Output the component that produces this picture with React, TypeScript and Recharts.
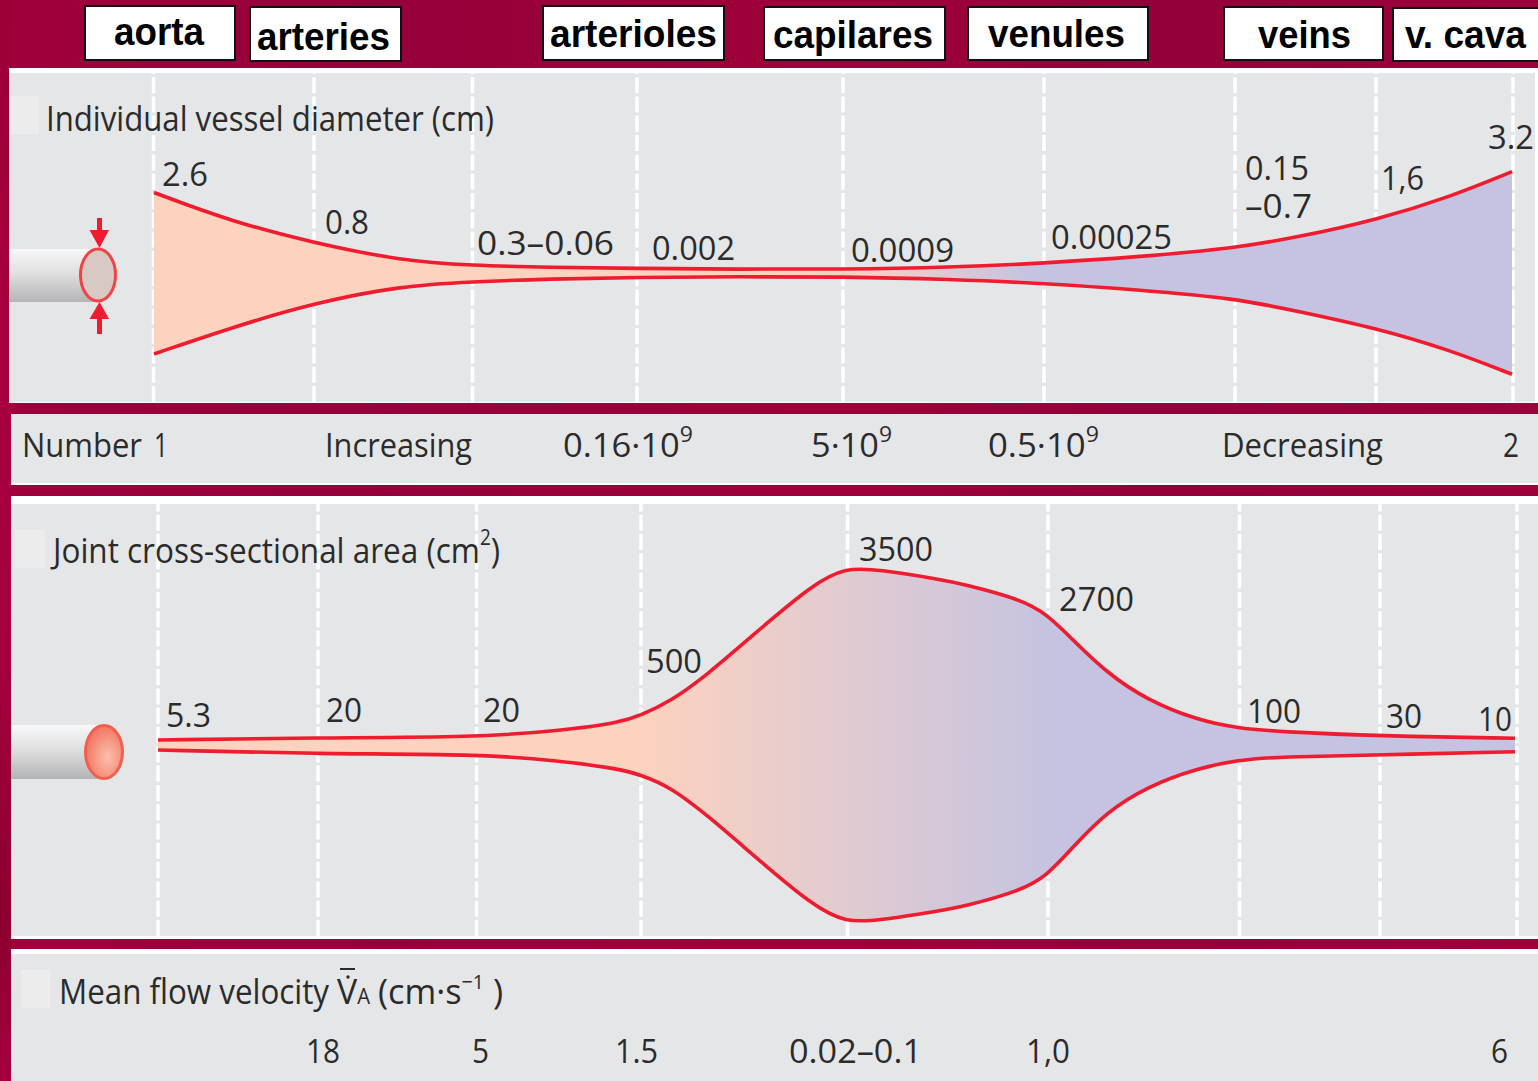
import type { ReactNode } from "react"
import { Area, ComposedChart, ReferenceLine, XAxis, YAxis } from "recharts"

// vessel segment positions along the tree, and the wall offsets either side of the centre line
const diameterPosition = [154, 230, 314, 400, 472, 550, 637, 740, 843, 950, 1044, 1140, 1235, 1300, 1376, 1450, 1512]
const diameterUpper = [80.5, 52, 30, 12.5, 7.5, 5.7, 4.5, 3.8, 3.7, 5.7, 9.7, 16.3, 24.7, 36.3, 53, 76, 101.3]
const diameterLower = [-81, -55, -30, -13, -8.7, -6, -4.3, -3.7, -3.7, -6.3, -10.3, -17, -25.3, -38.7, -55, -77, -101.3]

const areaPosition = [158, 318, 476, 560, 620, 641, 670, 707, 753, 813, 846, 878, 940, 963, 1020, 1047, 1073, 1107, 1147, 1197, 1238, 1280, 1378, 1515]
const areaUpper = [5, 7.3, 7.7, 14.3, 22.3, 30, 43.3, 70, 110, 161, 177.5, 175.5, 165.7, 161, 146, 131, 105, 72, 45, 25, 16.7, 13.3, 9, 6.7]
const areaLower = [-5, -9, -9, -15.7, -24, -30, -41.7, -70, -110, -161, -177.5, -175.5, -165.7, -161.7, -146, -131, -101.7, -66.7, -41.7, -23.3, -15, -11.7, -10, -6.7]

const topDividers = [153.5, 314, 472.5, 637, 843, 1044, 1235, 1376, 1513]
const lowerDividers = [158, 318, 476.5, 641, 847.5, 1048, 1239.5, 1380, 1517]

const vesselNames = ["aorta", "arteries", "arterioles", "capilares", "venules", "veins", "v. cava"]
const diameterLabels = ["2.6", "0.8", "0.3–0.06", "0.002", "0.0009", "0.00025", "0.15", "–0.7", "1,6", "3.2"]
const numberLabels = ["Number", "1", "Increasing", "Decreasing", "2"]
const countLabels = ["0.16·10", "5·10", "0.5·10"]
const countPowers = ["9", "9", "9"]
const areaLabels = ["5.3", "20", "20", "500", "3500", "2700", "100", "30", "10"]
const velocityLabels = ["18", "5", "1.5", "0.02–0.1", "1,0", "6"]

const diameterRows = diameterPosition.map((position, i) => ({ position, wall: [diameterLower[i], diameterUpper[i]] }))
const areaRows = areaPosition.map((position, i) => ({ position, wall: [areaLower[i], areaUpper[i]] }))

// [x, baseline, width]
const vesselBoxes = [[85, 6, 150, 54], [250, 7, 151, 54], [543, 6, 181, 54], [764, 7, 181, 53], [968, 7, 180, 53], [1224, 7, 159, 53], [1393, 8, 150, 53]]
const vesselSpots = [[114, 45, 90], [257, 50, 133], [550, 47, 167], [773, 48, 160], [988, 47, 137], [1258, 48, 93], [1405, 48, 121]]
const diameterSpots = [[162, 186, 46], [325, 234, 44], [477, 255, 137], [652, 260, 83], [851, 262, 103], [1051, 249, 121], [1245, 180, 64], [1245, 218, 67], [1381, 190, 43], [1488, 149, 46]]
const numberSpots = [[22, 457, 120], [154, 457, 14], [325, 457, 147], [1222, 457, 161], [1503, 457, 16]]
const countSpots = [[563, 457, 130], [811, 457, 81], [988, 457, 111]]
const areaSpots = [[166, 727, 45], [326, 722, 36], [483, 722, 37], [646, 673, 56], [859, 561, 74], [1059, 611, 75], [1247, 723, 54], [1386, 728, 36], [1478, 731, 34]]
const velocitySpots = [[306, 1063, 34], [472, 1063, 17], [615, 1063, 43], [789, 1063, 133], [1026, 1063, 44], [1491, 1063, 17]]

const RED = "#ee1c2e"
const GREY = "#e5e6e8"
const INK = "#2b2b2b"
const BODY_FONT = "'Open Sans', sans-serif"
const PAGE_W = 1538

function Txt({ x, y, w, size = 33, children }: { x: number; y: number; w: number; size?: number; children: ReactNode }) {
  return (
    <text x={x} y={y} fontSize={size} fontFamily={BODY_FONT} fill={INK} textLength={w} lengthAdjust="spacingAndGlyphs">
      {children}
    </text>
  )
}

function Dividers({ xs }: { xs: number[] }) {
  return (
    <>
      {xs.map((x) => (
        <ReferenceLine key={x} x={x} stroke="#ffffff" strokeWidth={3.5} strokeDasharray="16 3.3" zIndex={50} />
      ))}
    </>
  )
}

function Band({ top, height, xs }: { top: number; height: number; xs: number[] }) {
  return (
    <div style={{ position: "absolute", left: 0, top }}>
      <ComposedChart width={PAGE_W} height={height} data={[{ position: 0, wall: [0, 1] }]} margin={{ top: 0, right: 0, bottom: 0, left: 0 }}>
        <XAxis type="number" dataKey="position" domain={[0, PAGE_W]} hide />
        <YAxis domain={[0, 1]} hide />
        <Dividers xs={xs} />
      </ComposedChart>
    </div>
  )
}

function Profile({ top, height, domain, rows, xs, id, stops }: {
  top: number
  height: number
  domain: number[]
  rows: { position: number; wall: number[] }[]
  xs: number[]
  id: string
  stops: number[]
}) {
  return (
    <div style={{ position: "absolute", left: 0, top }}>
      <ComposedChart width={PAGE_W} height={height} data={rows} margin={{ top: 0, right: 0, bottom: 0, left: 0 }}>
        <defs>
          <linearGradient id={id} x1="0" y1="0" x2="1" y2="0">
            <stop offset={stops[0]} stopColor="#fdd2bf" />
            <stop offset={stops[1]} stopColor="#c5c3e1" />
          </linearGradient>
        </defs>
        <XAxis type="number" dataKey="position" domain={[0, PAGE_W]} hide />
        <YAxis domain={domain} hide />
        <Dividers xs={xs} />
        <Area
          type="basis"
          dataKey="wall"
          fill={`url(#${id})`}
          fillOpacity={1}
          stroke={RED}
          strokeWidth={3.6}
          dot={false}
          activeDot={false}
          isAnimationActive={false}
        />
      </ComposedChart>
    </div>
  )
}

function Panel({ left = 11, top, bottom, greyTop, greyBottom, greyRight = PAGE_W }: {
  left?: number
  top: number
  bottom: number
  greyTop: number
  greyBottom: number
  greyRight?: number
}) {
  return (
    <>
      <div style={{ position: "absolute", left, top, width: PAGE_W - left, height: bottom - top, background: "#fff" }} />
      <div style={{ position: "absolute", left, top: greyTop, width: greyRight - left, height: greyBottom - greyTop, background: GREY }} />
    </>
  )
}

function Overlay() {
  return (
    <svg width={PAGE_W} height={1081} style={{ position: "absolute", left: 0, top: 0 }}>
      <defs>
        <linearGradient id="tube" x1="0" y1="0" x2="0" y2="1">
          <stop offset="0" stopColor="#f8f8f8" />
          <stop offset="0.45" stopColor="#e0e0e0" />
          <stop offset="1" stopColor="#b4b4b6" />
        </linearGradient>
        <radialGradient id="lumen" cx="0.6" cy="0.6" r="0.7">
          <stop offset="0" stopColor="#fbc0ac" />
          <stop offset="1" stopColor="#f26a58" />
        </radialGradient>
      </defs>

      {vesselNames.map((name, i) => {
        const [x, y, w, h] = vesselBoxes[i]
        const [tx, ty, tw] = vesselSpots[i]
        return (
          <g key={name}>
            <rect x={x} y={y} width={w} height={h} fill="#fff" stroke="#111" strokeWidth={2} />
            <text x={tx} y={ty} fontSize={38} fontWeight={700} fontFamily="'Liberation Sans', Arial, sans-serif" fill="#000" textLength={tw} lengthAdjust="spacingAndGlyphs">
              {name}
            </text>
          </g>
        )
      })}

      {/* pale squares behind the titles */}
      <rect x={10} y={96} width={29} height={38} fill="#ececec" />
      <rect x={15} y={530} width={30} height={38} fill="#ececec" />
      <rect x={21} y={970} width={29} height={38} fill="#ececec" />

      {/* diameter vessel icon */}
      <rect x={9} y={249} width={89} height={53} fill="url(#tube)" />
      <ellipse cx={98} cy={275} rx={17.5} ry={26} fill="#d9c9c5" stroke="#ee4444" strokeWidth={3} />
      <rect x={97} y={218} width={5} height={14} fill={RED} />
      <polygon points="89.5,230 109,230 99.5,248" fill={RED} />
      <polygon points="89.5,319 109,319 99.5,302" fill={RED} />
      <rect x={97} y={318} width={5} height={16} fill={RED} />

      {/* cross-section vessel icon */}
      <rect x={11} y={725} width={93} height={54} fill="url(#tube)" />
      <ellipse cx={104} cy={752} rx={18.5} ry={26.5} fill="url(#lumen)" stroke="#f0604f" strokeWidth={3} />

      <Txt x={46} y={131} w={448} size={35}>Individual vessel diameter (cm)</Txt>
      {diameterLabels.map((t, i) => (
        <Txt key={i} x={diameterSpots[i][0]} y={diameterSpots[i][1]} w={diameterSpots[i][2]}>{t}</Txt>
      ))}

      {numberLabels.map((t, i) => (
        <Txt key={i} x={numberSpots[i][0]} y={numberSpots[i][1]} w={numberSpots[i][2]}>{t}</Txt>
      ))}
      {countLabels.map((t, i) => (
        <Txt key={i} x={countSpots[i][0]} y={countSpots[i][1]} w={countSpots[i][2]}>
          {t}
          <tspan dy={-15} fontSize={22}>{countPowers[i]}</tspan>
        </Txt>
      ))}

      <Txt x={53} y={563} w={447} size={35}>
        Joint cross-sectional area (cm
        <tspan dy={-18} fontSize={21}>2</tspan>
        <tspan dy={18}>)</tspan>
      </Txt>
      {areaLabels.map((t, i) => (
        <Txt key={i} x={areaSpots[i][0]} y={areaSpots[i][1]} w={areaSpots[i][2]}>{t}</Txt>
      ))}

      <Txt x={59} y={1004} w={270} size={35}>Mean flow velocity</Txt>
      <Txt x={337} y={1004} w={33} size={35}>
        V
        <tspan fontSize={21}>A</tspan>
      </Txt>
      <Txt x={378} y={1004} w={125} size={35}>
        (cm·s
        <tspan dy={-15} fontSize={20}>−1</tspan>
        <tspan dy={15}> )</tspan>
      </Txt>
      <rect x={340} y={968} width={15} height={2} fill={INK} />
      <circle cx={348} cy={977} r={1.7} fill={INK} />
      {velocityLabels.map((t, i) => (
        <Txt key={i} x={velocitySpots[i][0]} y={velocitySpots[i][1]} w={velocitySpots[i][2]}>{t}</Txt>
      ))}
    </svg>
  )
}

export default function App() {
  return (
    <div
      style={{
        position: "absolute",
        left: 0,
        top: 0,
        width: PAGE_W,
        height: 1081,
        overflow: "hidden",
        background: "linear-gradient(90deg, #a0003c 0%, #96003a 25%, #a00039 55%, #93003a 75%, #9e003a 100%)",
      }}
    >
      <div style={{ position: "absolute", left: 0, top: 0, width: 12, height: 1081, background: "linear-gradient(180deg, #9a0036 0%, #a8003f 35%, #a5003e 60%, #8c002f 85%, #a4003e 100%)" }} />

      <Panel left={9} top={68} bottom={403} greyTop={73} greyBottom={402} greyRight={1535} />
      <Panel top={414} bottom={485} greyTop={414} greyBottom={483} />
      <Panel top={496} bottom={939} greyTop={504} greyBottom={936} />
      <Panel top={949} bottom={1081} greyTop={954} greyBottom={1081} />

      <Profile top={73} height={329} domain={[-129, 200]} rows={diameterRows} xs={topDividers} id="diameterFill" stops={[0.505, 0.645]} />
      <Band top={414} height={69} xs={lowerDividers} />
      <Profile top={504} height={432} domain={[-191, 241]} rows={areaRows} xs={lowerDividers} id="areaFill" stops={[0.355, 0.66]} />
      <Band top={958} height={123} xs={lowerDividers} />

      <Overlay />
    </div>
  )
}
